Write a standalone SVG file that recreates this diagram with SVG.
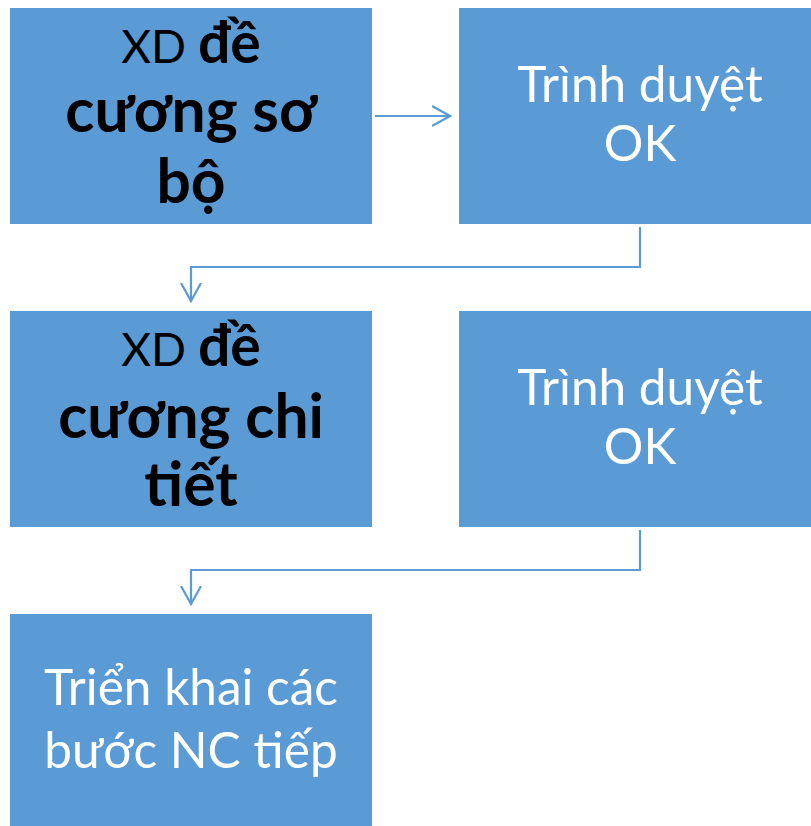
<svg xmlns="http://www.w3.org/2000/svg" width="811" height="826" viewBox="0 0 811 826">
<style>
.box{fill:#5B9BD5}
.t{font-family:Lato,"Liberation Sans",sans-serif;text-anchor:middle}
.w{fill:#FFFFFF;font-size:49.5px}
.k{fill:#000000}
.s{font-size:46px}
.b{font-weight:bold;font-size:57px}
.L{font-size:60.5px;font-weight:bold}
.c{fill:none;stroke:#5B9BD5;stroke-width:2.2}
</style>
<defs>
<marker id="ah" viewBox="0 0 20 22" refX="18" refY="11" markerWidth="20" markerHeight="22" markerUnits="userSpaceOnUse" orient="auto">
<path d="M0,1 L18,11 L0,21" fill="none" stroke="#5B9BD5" stroke-width="2.2"/>
</marker>
</defs>
<rect width="811" height="826" fill="#FFFFFF"/>
<g id="connectors">
<path class="c" d="M375,116 H450" marker-end="url(#ah)"/>
<path class="c" d="M640,227 V267 H191 V301" marker-end="url(#ah)"/>
<path class="c" d="M640,530 V570 H191 V604" marker-end="url(#ah)"/>
</g>
<g id="node1">
<rect class="box" x="10" y="8" width="362" height="216"/>
<text class="t k s" x="191" y="63"><tspan>XD </tspan><tspan class="b">đề</tspan></text>
<text class="t k L" x="191" y="132">cương sơ</text>
<text class="t k L" x="191" y="203">bộ</text>
</g>
<g id="node2">
<rect class="box" x="459" y="8" width="362" height="216"/>
<text class="t w" x="640" y="101.5">Trình duyệt</text>
<text class="t w" x="640" y="160.5">OK</text>
</g>
<g id="node3">
<rect class="box" x="10" y="311" width="362" height="216"/>
<text class="t k s" x="191" y="366"><tspan>XD </tspan><tspan class="b">đề</tspan></text>
<text class="t k L" x="191" y="437.5">cương chi</text>
<text class="t k L" x="191" y="506">tiết</text>
</g>
<g id="node4">
<rect class="box" x="459" y="311" width="362" height="216"/>
<text class="t w" x="640" y="404.5">Trình duyệt</text>
<text class="t w" x="640" y="463.5">OK</text>
</g>
<g id="node5">
<rect class="box" x="10" y="614" width="362" height="216"/>
<text class="t w" x="191" y="705">Triển khai các</text>
<text class="t w" x="191" y="768">bước NC tiếp</text>
</g>
</svg>
